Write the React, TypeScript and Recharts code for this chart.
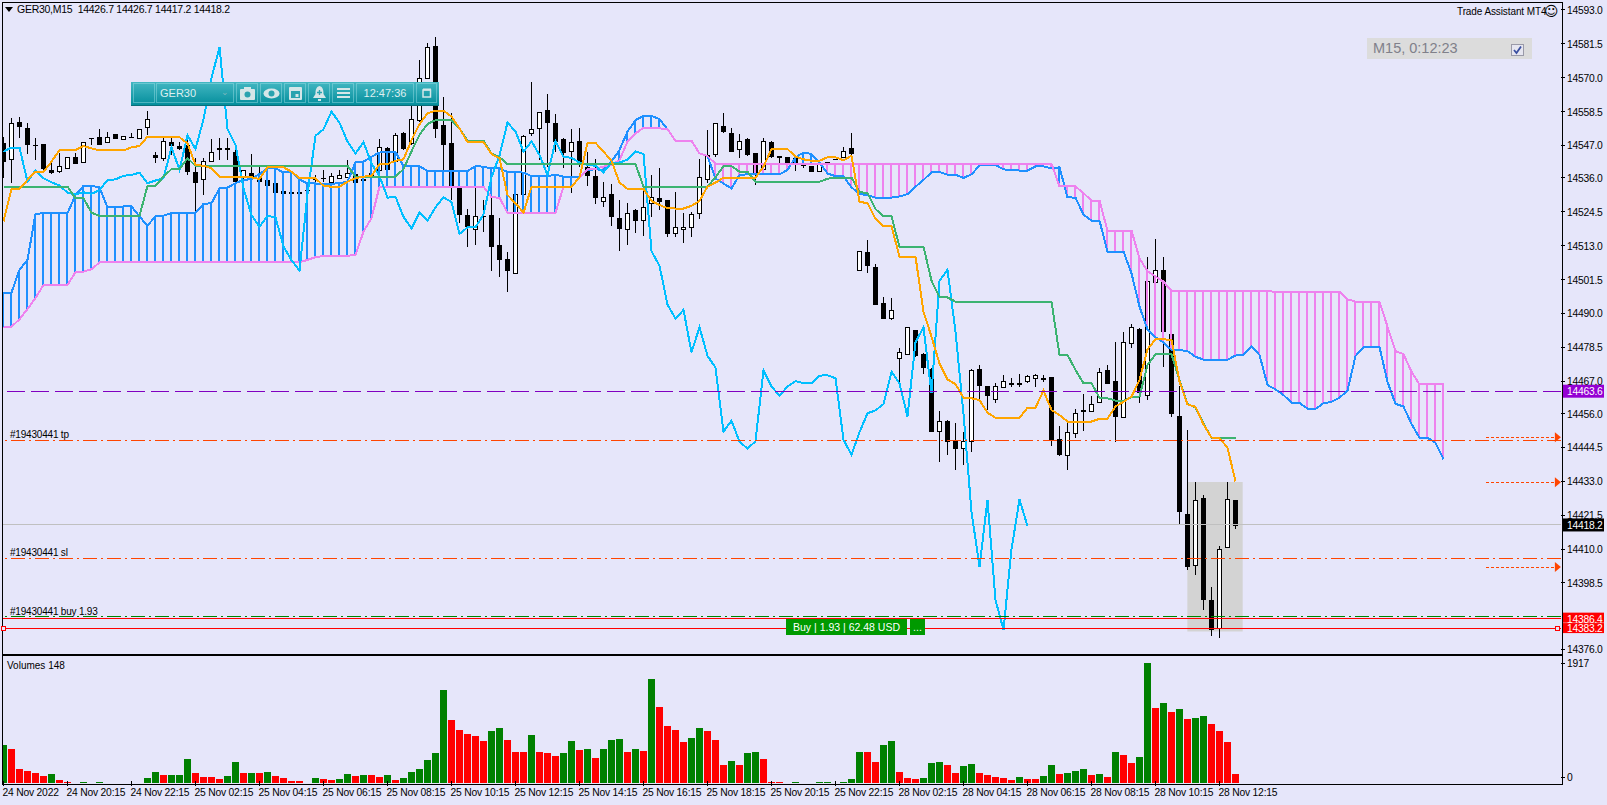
import React from "react";
import {
  ComposedChart, Bar, Line, XAxis, YAxis, ReferenceLine, ReferenceArea, ReferenceDot,
} from "recharts";

// ---- candles (GER30, M15) ----
const opens = [14547.7,14542.3,14555.0,14552.8,14547.3,14547.5,14538.7,14538.5,14539.3,14543.0,14541.3,14549.4,14549.8,14548.3,14550.8,14549.1,14549.8,14549.4,14553.2,14543.8,14542.9,14548.1,14546.8,14547.2,14537.9,14535.5,14541.6,14545.9,14545.9,14544.9,14536.8,14537.6,14536.1,14535.3,14534.2,14531.5,14531.0,14531.1,14531.9,14535.6,14535.9,14534.5,14535.9,14536.4,14537.3,14535.5,14537.6,14538.7,14546.0,14541.9,14551.1,14547.7,14555.6,14570.0,14580.8,14553.9,14547.7,14532.4,14523.4,14518.5,14523.1,14523.4,14513.2,14508.4,14503.8,14530.4,14551.3,14552.8,14559.0,14554.5,14549.2,14545.2,14548.5,14539.8,14536.6,14528.3,14530.5,14522.3,14518.5,14525.1,14521.7,14527.4,14529.1,14528.5,14517.4,14518.5,14519.4,14524.0,14535.5,14544.0,14553.6,14551.4,14545.9,14549.2,14544.3,14538.9,14548.1,14543.4,14543.0,14542.6,14540.4,14540.0,14538.4,14541.3,14542.3,14543.0,14546.2,14504.7,14510.7,14505.8,14493.4,14488.6,14475.0,14476.1,14484.3,14476.2,14471.0,14450.2,14453.4,14447.1,14444.4,14446.6,14471.1,14465.3,14461.1,14464.9,14465.9,14465.9,14467.0,14468.0,14467.9,14468.4,14447.3,14441.8,14449.3,14456.8,14456.8,14459.8,14470.7,14467.0,14454.7,14479.9,14484.7,14462.2,14500.6,14504.6,14482.9,14455.2,14421.9,14404.5,14427.2,14392.7,14383.1,14410.6,14426.7];
const highs = [14549.8,14556.2,14556.6,14554.5,14549.4,14547.5,14541.5,14544.4,14543.2,14544.4,14548.3,14549.4,14552.5,14551.7,14550.8,14550.3,14551.1,14552.5,14558.7,14544.9,14549.4,14549.4,14548.3,14550.9,14542.7,14542.7,14549.1,14549.4,14549.4,14545.5,14538.7,14544.0,14539.6,14535.3,14534.2,14531.5,14531.3,14531.2,14532.5,14537.0,14538.7,14537.6,14538.7,14542.1,14537.6,14537.6,14538.7,14549.1,14546.6,14551.1,14551.7,14560.8,14576.0,14581.8,14583.8,14563.3,14557.9,14533.0,14525.3,14533.0,14528.5,14533.0,14522.3,14511.0,14530.8,14550.5,14568.4,14558.5,14564.5,14557.7,14549.4,14552.5,14552.8,14544.9,14542.3,14534.7,14533.8,14528.5,14527.4,14525.3,14531.7,14537.0,14539.2,14528.5,14531.1,14524.0,14524.5,14542.4,14552.2,14554.8,14557.9,14552.8,14550.8,14549.4,14544.3,14549.4,14548.5,14543.4,14543.2,14543.2,14542.6,14540.0,14541.5,14541.4,14542.3,14546.6,14551.3,14511.3,14514.9,14506.8,14495.5,14495.1,14478.2,14485.5,14484.4,14476.5,14471.4,14456.9,14453.8,14452.7,14449.9,14471.0,14472.5,14465.5,14466.3,14469.1,14468.0,14469.4,14469.1,14469.4,14469.1,14468.4,14451.8,14452.9,14457.5,14462.7,14462.1,14471.4,14472.5,14480.2,14483.6,14486.4,14484.9,14509.3,14515.3,14509.3,14483.0,14465.4,14450.4,14432.9,14428.4,14397.3,14411.1,14432.9,14426.7];
const lows = [14535.9,14534.4,14549.4,14544.1,14542.1,14538.7,14537.3,14537.6,14539.3,14540.7,14541.2,14547.2,14547.0,14548.0,14549.3,14549.1,14549.6,14549.4,14550.6,14541.0,14541.9,14543.8,14545.5,14537.0,14524.6,14530.2,14541.5,14542.1,14542.1,14534.4,14535.3,14535.3,14534.4,14533.4,14531.0,14530.4,14530.9,14530.6,14530.8,14533.9,14534.7,14534.2,14535.6,14535.9,14533.9,14534.7,14535.3,14535.9,14538.5,14538.7,14545.5,14547.0,14555.0,14570.0,14549.4,14534.1,14528.5,14520.6,14512.7,14513.2,14517.7,14504.4,14502.3,14497.4,14503.6,14530.2,14550.3,14542.1,14539.8,14544.9,14539.2,14530.8,14539.8,14533.2,14527.1,14526.2,14519.7,14511.3,14513.2,14517.4,14516.3,14522.6,14525.1,14516.1,14515.8,14514.0,14516.1,14522.0,14534.4,14543.2,14551.3,14544.7,14542.6,14543.4,14533.6,14538.7,14542.6,14539.8,14539.8,14538.3,14539.2,14537.9,14538.4,14541.1,14542.1,14542.6,14543.1,14504.5,14503.6,14492.9,14488.0,14487.8,14466.3,14475.9,14475.3,14469.4,14449.9,14439.7,14441.9,14436.9,14438.6,14443.1,14460.9,14457.2,14459.7,14464.8,14465.1,14465.1,14466.3,14465.1,14466.8,14445.0,14441.7,14436.9,14447.8,14450.1,14456.7,14459.5,14466.1,14446.5,14454.6,14478.2,14459.7,14460.6,14500.4,14471.9,14455.0,14418.5,14402.9,14401.2,14389.3,14380.5,14380.0,14410.5,14416.7];
const closes = [14541.5,14554.5,14553.4,14547.2,14547.0,14538.9,14537.5,14539.9,14543.2,14540.8,14548.1,14549.1,14547.2,14549.8,14549.3,14550.3,14549.6,14552.5,14555.9,14542.8,14548.4,14546.8,14545.7,14538.1,14534.2,14541.9,14544.9,14546.3,14546.3,14534.7,14538.6,14535.9,14534.5,14533.4,14531.0,14530.4,14531.1,14530.6,14531.8,14535.3,14535.5,14536.7,14537.0,14537.8,14534.2,14535.1,14535.9,14546.4,14538.7,14550.5,14545.8,14555.9,14569.8,14580.4,14552.6,14547.2,14532.4,14523.4,14519.4,14523.1,14522.6,14512.7,14508.1,14504.5,14530.5,14550.3,14552.5,14558.5,14554.7,14548.3,14544.3,14548.1,14540.9,14536.6,14529.3,14529.6,14522.8,14518.8,14524.2,14521.5,14526.0,14529.4,14527.8,14517.0,14519.2,14519.2,14523.6,14536.2,14543.6,14554.8,14551.7,14544.9,14548.4,14543.8,14537.0,14548.5,14543.2,14542.8,14541.2,14540.4,14540.1,14537.9,14541.2,14541.2,14542.2,14545.0,14544.1,14511.1,14506.2,14493.0,14488.2,14491.2,14476.8,14485.3,14475.6,14471.6,14449.9,14453.6,14446.5,14444.1,14446.6,14470.7,14465.2,14462.1,14465.2,14467.0,14466.3,14466.3,14468.9,14469.0,14468.0,14447.1,14442.0,14449.7,14456.1,14457.1,14459.2,14470.2,14466.2,14455.0,14480.2,14485.3,14462.9,14501.0,14504.8,14483.8,14455.9,14422.7,14404.0,14426.7,14392.7,14382.6,14409.9,14426.9,14417.8];

// ---- Ichimoku lines ----
const tenkan = [14521.2,14532.3,14532.3,14535.3,14538.1,14538.1,14541.5,14545.5,14545.5,14545.5,14546.8,14546.0,14545.3,14545.3,14545.3,14545.3,14546.4,14546.8,14550.0,14550.0,14550.0,14550.0,14549.8,14547.7,14540.4,14540.1,14539.3,14536.4,14536.4,14536.4,14536.4,14536.2,14535.6,14539.6,14539.6,14539.6,14538.1,14535.9,14535.9,14535.9,14533.3,14533.0,14533.0,14534.7,14535.9,14536.4,14536.7,14540.7,14540.7,14541.8,14542.3,14548.8,14554.2,14557.9,14558.8,14558.8,14556.8,14552.8,14548.2,14548.2,14548.2,14544.1,14542.6,14530.2,14527.4,14524.2,14533.0,14533.0,14533.0,14533.0,14533.0,14533.0,14536.2,14547.9,14547.9,14544.9,14541.8,14534.4,14532.3,14532.3,14532.3,14528.2,14526.8,14525.7,14525.6,14525.6,14526.5,14528.2,14533.0,14534.4,14536.1,14536.1,14536.1,14536.1,14536.1,14539.8,14545.8,14545.8,14545.8,14543.2,14542.3,14541.8,14541.8,14543.0,14543.0,14542.0,14543.5,14527.9,14527.4,14522.1,14519.6,14519.5,14509.3,14509.3,14509.3,14490.6,14482.1,14473.0,14467.6,14466.0,14461.4,14461.2,14460.6,14456.3,14454.6,14454.6,14454.6,14454.6,14458.0,14458.0,14463.8,14457.2,14455.5,14453.3,14453.3,14453.3,14453.3,14454.2,14454.3,14458.4,14460.0,14461.8,14467.4,14477.8,14481.2,14481.2,14481.0,14466.9,14459.1,14458.3,14452.3,14447.9,14447.7,14444.4,14433.0];
const kijun = [14533.0,14533.0,14533.0,14533.0,14533.0,14533.0,14533.0,14533.0,14533.0,14529.1,14529.1,14524.2,14523.1,14523.1,14523.1,14523.1,14523.1,14523.1,14533.3,14533.3,14536.4,14539.0,14539.0,14542.7,14540.1,14540.1,14540.1,14540.1,14540.1,14540.1,14540.1,14540.1,14540.1,14540.1,14540.1,14540.1,14540.1,14540.1,14540.1,14540.1,14540.1,14540.1,14540.1,14540.1,14536.4,14536.4,14536.4,14536.4,14536.4,14536.4,14539.0,14545.0,14550.6,14554.3,14555.6,14555.6,14555.6,14552.8,14548.6,14548.6,14548.6,14544.3,14543.0,14540.7,14540.7,14540.7,14540.7,14540.7,14540.7,14540.7,14540.7,14540.7,14540.7,14540.7,14540.7,14540.7,14540.7,14540.7,14540.7,14540.7,14533.0,14533.0,14533.0,14533.0,14533.0,14533.0,14533.0,14533.0,14533.0,14536.2,14540.0,14540.0,14538.1,14538.1,14534.7,14534.7,14534.7,14534.7,14534.7,14534.7,14534.7,14534.7,14534.7,14535.7,14536.1,14536.1,14536.1,14531.2,14530.8,14525.4,14523.0,14522.9,14512.6,14512.6,14512.6,14512.6,14501.1,14495.6,14495.4,14494.0,14494.0,14494.0,14494.0,14494.0,14494.0,14494.0,14494.0,14494.0,14494.0,14494.0,14494.0,14494.0,14475.9,14475.9,14470.8,14466.3,14466.3,14461.4,14461.2,14460.4,14460.4,14461.5,14461.8,14472.5,14476.1,14476.1,14476.1,14467.4,14459.2,14458.1,14452.7,14447.7,14447.7,14447.7,14447.7];
const chikou = [14544.9,14546.3,14546.3,14534.7,14538.6,14535.9,14534.5,14533.4,14531.0,14530.4,14531.1,14530.6,14531.8,14535.3,14535.5,14536.7,14537.0,14537.8,14534.2,14535.1,14535.9,14546.4,14538.7,14550.5,14545.8,14555.9,14569.8,14580.4,14552.6,14547.2,14532.4,14523.4,14519.4,14523.1,14522.6,14512.7,14508.1,14504.5,14530.5,14550.3,14552.5,14558.5,14554.7,14548.3,14544.3,14548.1,14540.9,14536.6,14529.3,14529.6,14522.8,14518.8,14524.2,14521.5,14526.0,14529.4,14527.8,14517.0,14519.2,14519.2,14523.6,14536.2,14543.6,14554.8,14551.7,14544.9,14548.4,14543.8,14537.0,14548.5,14543.2,14542.8,14541.2,14540.4,14540.1,14537.9,14541.2,14541.2,14542.2,14545.0,14544.1,14511.1,14506.2,14493.0,14488.2,14491.2,14476.8,14485.3,14475.6,14471.6,14449.9,14453.6,14446.5,14444.1,14446.6,14470.7,14465.2,14462.1,14465.2,14467.0,14466.3,14466.3,14468.9,14469.0,14468.0,14447.1,14442.0,14449.7,14456.1,14457.1,14459.2,14470.2,14466.2,14455.0,14480.2,14485.3,14462.9,14501.0,14504.8,14483.8,14455.9,14422.7,14404.0,14426.7,14392.7,14382.6,14409.9,14426.9,14417.8];
const spanA = [14496.9,14497.1,14504.8,14508.2,14523.8,14524.0,14524.0,14524.0,14524.0,14530.2,14533.3,14533.3,14532.8,14526.0,14526.0,14526.3,14526.3,14522.9,14519.7,14523.1,14523.2,14524.1,14524.2,14524.2,14524.2,14527.2,14527.4,14532.5,14532.7,14534.2,14535.3,14535.6,14537.3,14539.3,14539.3,14537.8,14538.1,14535.5,14534.1,14534.1,14534.0,14534.0,14534.2,14534.7,14541.3,14541.5,14543.2,14544.6,14544.8,14544.8,14540.0,14540.2,14540.0,14538.3,14538.3,14538.3,14538.3,14538.3,14538.3,14540.0,14539.8,14539.2,14539.2,14538.0,14538.0,14537.8,14536.6,14536.6,14536.6,14537.1,14536.4,14536.4,14536.4,14538.7,14538.9,14538.7,14541.5,14545.5,14551.7,14555.6,14557.1,14557.1,14555.9,14552.5,14548.6,14548.6,14548.6,14544.3,14543.4,14535.8,14534.1,14532.4,14537.0,14537.2,14537.2,14537.2,14537.2,14537.2,14538.7,14543.0,14544.6,14544.1,14541.2,14537.5,14536.6,14536.5,14532.8,14530.5,14530.2,14529.3,14529.3,14529.3,14529.7,14530.5,14533.0,14535.3,14537.9,14538.0,14537.1,14537.1,14536.0,14537.2,14540.2,14540.4,14540.4,14538.9,14538.6,14538.5,14538.5,14539.9,14539.9,14539.2,14539.6,14529.4,14529.3,14523.5,14521.5,14521.5,14511.0,14511.0,14511.0,14503.6,14492.3,14484.6,14481.9,14480.1,14477.6,14477.6,14477.2,14475.3,14474.3,14474.3,14474.3,14474.3,14475.7,14475.9,14478.8,14475.9,14465.7,14464.2,14462.3,14459.7,14459.6,14457.7,14457.6,14459.5,14460.0,14461.4,14463.8,14475.5,14478.6,14478.7,14478.6,14466.8,14459.3,14458.4,14452.5,14447.8,14447.8,14446.1,14440.5];
const spanB = [14485.2,14485.5,14488.0,14491.5,14495.2,14499.7,14499.7,14499.7,14499.7,14504.0,14504.2,14505.0,14507.3,14507.3,14507.3,14507.3,14507.3,14507.3,14507.3,14507.3,14507.3,14507.3,14507.3,14507.3,14507.3,14507.3,14507.3,14507.3,14507.3,14507.3,14507.3,14507.3,14507.3,14507.3,14507.3,14507.3,14507.3,14507.3,14508.2,14509.1,14509.5,14509.6,14509.6,14509.6,14509.8,14517.8,14522.3,14533.0,14533.0,14533.0,14533.0,14533.0,14533.0,14533.0,14533.0,14533.0,14533.0,14533.0,14533.0,14533.0,14533.0,14529.4,14529.3,14524.2,14524.2,14524.2,14524.2,14524.2,14524.2,14524.2,14533.0,14533.0,14536.2,14538.9,14539.1,14539.8,14540.4,14542.0,14548.3,14551.1,14553.0,14552.8,14552.8,14552.6,14548.6,14548.6,14548.6,14544.3,14543.4,14540.8,14540.8,14540.8,14540.8,14540.8,14540.8,14540.8,14540.8,14540.8,14540.8,14540.8,14540.8,14540.8,14540.8,14540.8,14540.8,14540.8,14540.8,14540.8,14540.8,14540.8,14540.8,14540.8,14540.8,14540.8,14540.8,14540.8,14540.8,14540.8,14540.8,14540.8,14540.8,14540.8,14540.8,14540.8,14540.8,14540.8,14540.8,14540.8,14540.8,14540.8,14540.8,14540.8,14533.1,14533.1,14533.1,14530.8,14528.3,14528.3,14518.1,14518.1,14518.1,14518.1,14508.7,14504.3,14502.5,14500.8,14497.6,14497.6,14497.6,14497.6,14497.6,14497.6,14497.6,14497.6,14497.6,14497.6,14497.6,14497.6,14497.6,14497.3,14497.3,14497.3,14497.3,14497.3,14497.3,14497.3,14497.3,14497.3,14494.8,14494.0,14494.0,14494.0,14494.0,14485.5,14477.2,14476.2,14470.2,14465.9,14465.9,14465.9,14465.9];

// ---- volumes ----
const volumes = [612,548,229,197,165,117,149,53,21,5,21,5,21,5,5,5,5,5,85,181,133,133,133,389,165,101,101,69,117,341,165,165,165,181,117,85,37,37,5,85,69,53,69,149,117,133,133,101,133,53,85,181,229,373,485,1491,1012,852,788,756,676,836,884,692,500,500,772,500,485,437,485,676,532,548,405,548,692,708,500,548,517,1667,1219,916,852,660,724,884,836,692,293,357,293,485,500,389,21,21,5,21,5,5,21,21,5,21,69,500,500,341,612,676,181,85,69,85,325,341,293,165,277,309,165,133,101,85,53,101,69,69,117,293,149,165,197,229,133,149,101,500,453,325,421,1917,1203,1283,1140,1187,1028,1044,1076,948,836,660,149];
const greenBars = [0,6,10,12,15,17,18,19,21,22,23,28,29,31,33,39,42,43,45,48,50,51,52,53,54,55,61,62,66,70,71,73,75,76,77,79,81,86,87,91,93,94,99,102,103,105,106,107,110,111,115,116,117,120,121,127,130,131,133,134,135,137,139,142,143,145,147,149,150];

// ---- axis labels and levels ----
const priceTicks = [14593.0,14581.5,14570.0,14558.5,14547.0,14536.0,14524.5,14513.0,14501.5,14490.0,14478.5,14467.0,14456.0,14444.5,14433.0,14421.5,14410.0,14398.5,14376.0];
const timeLabels = ["24 Nov 2022","24 Nov 20:15","24 Nov 22:15","25 Nov 02:15","25 Nov 04:15","25 Nov 06:15","25 Nov 08:15","25 Nov 10:15","25 Nov 12:15","25 Nov 14:15","25 Nov 16:15","25 Nov 18:15","25 Nov 20:15","25 Nov 22:15","28 Nov 02:15","28 Nov 04:15","28 Nov 06:15","28 Nov 08:15","28 Nov 10:15","28 Nov 12:15"];
const timeTicks = [0,8,16,24,32,40,48,56,64,72,80,88,96,104,112,120,128,136,144,152];
const volumeTicks = [0, 1917];
const alertLevels = [14448.0, 14432.7, 14403.9];

const priceRows = spanA.map((a, i) => ({
  i,
  candle: highs[i] === undefined ? null : [lows[i], highs[i]],
  open: opens[i], high: highs[i], low: lows[i], close: closes[i],
  tenkan: tenkan[i] ?? null,
  kijun: kijun[i] ?? null,
  chikou: chikou[i] ?? null,
  spanA: a,
  spanB: spanB[i],
  cloud: [Math.min(a, spanB[i]), Math.max(a, spanB[i])],
}));
const volumeRows = volumes.map((v, i) => ({ i, v, up: greenBars.includes(i) }));

const BLUE = "#1E90FF", VIOLET = "#EE82EE", ORANGE = "#FFA500", GREEN = "#3CB371", SKY = "#00BFFF", LAV = "#E6E6FA", OR = "#FF4500";
const UI = "'Liberation Sans', Arial, sans-serif";
const LW = 2;
const xDomain: [number, number] = [-0.0625, 194.6875];
const yDomain: [number, number] = [14374.4, 14595.7];

const snap = (v: number) => Math.round(v - 0.5) + 0.5;

const Candle = (p: any) => {
  const { x, y, width, height, payload } = p;
  if (payload.high === undefined) return null;
  const cx = snap(x + width / 2);
  const range = Math.max(payload.high - payload.low, 0.0001);
  const at = (v: number) => y + ((payload.high - v) / range) * height;
  const top = Math.round(at(Math.max(payload.open, payload.close)));
  const bot = Math.round(at(Math.min(payload.open, payload.close)));
  const bull = payload.close > payload.open;
  return (
    <g shapeRendering="crispEdges">
      <line x1={cx} x2={cx} y1={y} y2={y + height} stroke="#000" />
      {bull ? (
        <rect x={cx - 2} y={top + 0.5} width={4} height={Math.max(bot - top, 1)} fill="#fff" stroke="#000" />
      ) : (
        <rect x={cx - 2.5} y={top} width={5} height={Math.max(bot - top, 1)} fill="#000" />
      )}
    </g>
  );
};

const Hatch = (p: any) => {
  const { x, y, width, height, payload } = p;
  const cx = Math.round(x + width / 2 - 1);
  return <rect x={cx} y={y} width={2} height={Math.max(height, 0)} shapeRendering="crispEdges" fill={payload.spanA >= payload.spanB ? BLUE : VIOLET} />;
};

const VolBar = (p: any) => {
  const { x, y, width, height, payload } = p;
  return <rect x={Math.round(x)} y={y} width={7} height={height} shapeRendering="crispEdges" fill={payload.up ? "#008000" : "#FF0000"} />;
};

const PriceTick = (p: any) => (
  <g>
    <line x1={1561} x2={1565} y1={p.y} y2={p.y} stroke="#000" shapeRendering="crispEdges" />
    <text x={1567} y={p.y + 4} fontSize={10.3} fontFamily={UI} fill="#000" letterSpacing={-0.25}>{p.payload.value.toFixed(1)}</text>
  </g>
);

const VolumeTick = (p: any) => {
  const zero = p.payload.value === 0;
  const y = zero ? p.y - 6 : p.y;
  return (
    <g>
      <line x1={1561} x2={1565} y1={y} y2={y} stroke="#000" shapeRendering="crispEdges" />
      <text x={1567} y={y + 4} fontSize={10.3} fontFamily={UI} fill="#000" letterSpacing={-0.25}>{p.payload.value}</text>
    </g>
  );
};

const TimeTick = (p: any) => {
  const idx = timeTicks.indexOf(p.payload.value);
  return (
    <g>
      <line x1={p.x} x2={p.x} y1={p.y - 2} y2={p.y + 3} stroke="#000" shapeRendering="crispEdges" />
      <text x={p.x - 1} y={p.y + 13} fontSize={10.3} fontFamily={UI} fill="#000" letterSpacing={-0.2}>{timeLabels[idx]}</text>
    </g>
  );
};

const Tag = ({ viewBox, text, bg, up = 6.5, down = 6.5 }: any) => {
  const y = viewBox.y;
  return (
    <g>
      <rect x={1563} y={y - up} width={41} height={up + down} fill={bg} />
      <text x={1567} y={y + 4} fontSize={10.3} fontFamily={UI} fill="#fff" letterSpacing={-0.25}>{text}</text>
    </g>
  );
};

const LeftNote = ({ viewBox, text }: any) => (
  <text x={10} y={viewBox.y - 2} fontSize={10} fontFamily={UI} fill="#000" letterSpacing={-0.2}>{text}</text>
);

const AlertArrow = (p: any) => (
  <polygon points={`${p.cx - 3},${p.cy - 5} ${p.cx + 3},${p.cy} ${p.cx - 3},${p.cy + 5}`} fill={OR} />
);
const Handle = (p: any) => (
  <rect x={p.cx - 2} y={p.cy - 2} width={4} height={4} fill={LAV} stroke="#FF0000" shapeRendering="crispEdges" />
);

const Cell = ({ left, width, children }: any) => (
  <div style={{ position: "absolute", left: left - 131, top: 1, width, height: 20, boxSizing: "border-box", border: "1px solid rgba(160,225,230,.45)", display: "flex", alignItems: "center", justifyContent: "center", color: "#DDEFF0", fontFamily: UI, fontSize: 11 }}>
    {children}
  </div>
);

const ICON = "#D5E6E8";
const Toolbar = () => (
  <div style={{ position: "absolute", left: 131, top: 82, width: 308, height: 23, background: "linear-gradient(#43B7C2,#048E9C)", borderBottom: "1px solid #0A6F7A" }}>
    <Cell left={133} width={22} />
    <Cell left={156} width={78}>
      <span style={{ position: "absolute", left: 3 }}>GER30</span>
      <span style={{ position: "absolute", right: 4, top: 3, fontSize: 9, color: "#7FB7BD" }}>⌄</span>
    </Cell>
    <Cell left={236} width={22}><svg width="15" height="13"><rect x="0" y="2" width="15" height="11" rx="1" fill={ICON} /><rect x="4" y="0" width="7" height="3" fill={ICON} /><circle cx="7.5" cy="7.5" r="3" fill="#2AA3AF" /></svg></Cell>
    <Cell left={260} width={22}><svg width="17" height="11"><ellipse cx="8.5" cy="5.5" rx="8" ry="5" fill={ICON} /><circle cx="8.5" cy="5.5" r="3" fill="#2AA3AF" /></svg></Cell>
    <Cell left={284} width={22}><svg width="13" height="14"><rect x="0" y="1" width="13" height="13" rx="1" fill={ICON} /><rect x="2" y="5" width="9" height="7" fill="#2AA3AF" /><rect x="6.5" y="8" width="3" height="3" fill={ICON} /></svg></Cell>
    <Cell left={308} width={22}><svg width="13" height="15"><path d="M6.5 0 C10 1 10.5 4 10.5 8 L13 12 L0 12 L2.5 8 C2.5 4 3 1 6.5 0Z" fill={ICON} /><rect x="5" y="13" width="3" height="2" fill={ICON} /><path d="M6.5 4 V9 M4 6.5 H9" stroke="#2AA3AF" strokeWidth="1.4" /></svg></Cell>
    <Cell left={332} width={22}><svg width="13" height="10"><rect y="0" width="13" height="2" fill={ICON} /><rect y="4" width="13" height="2" fill={ICON} /><rect y="8" width="13" height="2" fill={ICON} /></svg></Cell>
    <Cell left={356} width={58}>12:47:36</Cell>
    <Cell left={416} width={21}><svg width="10" height="10"><rect x="1" y="2" width="7.5" height="7" fill="none" stroke={ICON} strokeWidth="1.5" /><rect x="1" y="0.5" width="8" height="2" fill={ICON} /></svg></Cell>
  </div>
);

const PriceChart = () => (
  <ComposedChart width={1607} height={655} data={priceRows} margin={{ top: 2, right: 0, bottom: 1, left: 3 }} style={{ position: "absolute", left: 0, top: 0 }}>
    <XAxis dataKey="i" type="number" domain={xDomain} allowDataOverflow hide />
    <XAxis xAxisId="hatch" dataKey="i" type="number" domain={xDomain} allowDataOverflow hide />
    <YAxis orientation="right" width={46} domain={yDomain} allowDataOverflow ticks={priceTicks} interval={0} tick={<PriceTick />} tickLine={false} axisLine={false} tickSize={0} tickMargin={0} />
    <ReferenceArea x1={147.98} x2={154.9} y1={14432.8} y2={14382.0} fill="#D3D3D3" fillOpacity={1} stroke="none" />
    <ReferenceLine y={14418.2} stroke="#C0C0C0" shapeRendering="crispEdges" label={<Tag text="14418.2" bg="#000" />} />
    <Bar dataKey="candle" barSize={7} shape={<Candle />} isAnimationActive={false} />
    <Bar xAxisId="hatch" dataKey="cloud" barSize={7} shape={<Hatch />} isAnimationActive={false} />
    <Line dataKey="spanA" stroke={BLUE} strokeWidth={LW} dot={false} isAnimationActive={false} shapeRendering="crispEdges" />
    <Line dataKey="spanB" stroke={VIOLET} strokeWidth={LW} dot={false} isAnimationActive={false} shapeRendering="crispEdges" />
    <Line dataKey="chikou" stroke={SKY} strokeWidth={LW} dot={false} isAnimationActive={false} shapeRendering="crispEdges" />
    <Line dataKey="kijun" stroke={GREEN} strokeWidth={LW} dot={false} isAnimationActive={false} shapeRendering="crispEdges" />
    <Line dataKey="tenkan" stroke={ORANGE} strokeWidth={LW} dot={false} isAnimationActive={false} shapeRendering="crispEdges" />
    <ReferenceLine y={14463.6} stroke="#8000C0" strokeDasharray="18 6" shapeRendering="crispEdges" label={<Tag text="14463.6" bg="#9400D3" />} />
    <ReferenceLine y={14446.9} stroke={OR} strokeDasharray="14 4 2 4" shapeRendering="crispEdges" label={<LeftNote text="#19430441 tp" />} />
    <ReferenceLine y={14406.9} stroke={OR} strokeDasharray="14 4 2 4" shapeRendering="crispEdges" label={<LeftNote text="#19430441 sl" />} />
    <ReferenceLine y={14387.1} stroke="#008000" strokeDasharray="14 4 2 4" shapeRendering="crispEdges" label={<LeftNote text="#19430441 buy 1.93" />} />
    <ReferenceLine y={14386.4} stroke="#FF0000" shapeRendering="crispEdges" label={<Tag text="14386.4" bg="#FF0000" up={6} down={4} />} />
    <ReferenceLine y={14383.2} stroke="#FF0000" shapeRendering="crispEdges" label={<Tag text="14383.2" bg="#FF0000" up={5} down={5} />} />
    {alertLevels.map((lvl) => (
      <ReferenceLine key={lvl} segment={[{ x: 185.3, y: lvl }, { x: 194.3, y: lvl }]} stroke={OR} strokeDasharray="3 2" shapeRendering="crispEdges" />
    ))}
    {alertLevels.map((lvl) => (
      <ReferenceDot key={"a" + lvl} x={194.3} y={lvl} r={3} shape={<AlertArrow />} />
    ))}
    <ReferenceDot x={0.05} y={14383.2} r={2} shape={<Handle />} />
    <ReferenceDot x={194.3} y={14383.2} r={2} shape={<Handle />} />
  </ComposedChart>
);

const VolumeChart = () => (
  <ComposedChart width={1607} height={149} data={volumeRows} margin={{ top: 7, right: 0, bottom: 0, left: 3 }} style={{ position: "absolute", left: 0, top: 656 }}>
    <XAxis dataKey="i" type="number" domain={xDomain} allowDataOverflow ticks={timeTicks} interval={0} height={22} tick={<TimeTick />} tickLine={false} axisLine={false} tickSize={0} tickMargin={0} />
    <YAxis orientation="right" width={46} domain={[0, 1917]} allowDataOverflow ticks={volumeTicks} interval={0} tick={<VolumeTick />} tickLine={false} axisLine={false} tickSize={0} tickMargin={0} />
    <Bar dataKey="v" barSize={7} shape={<VolBar />} isAnimationActive={false} />
  </ComposedChart>
);

export default function App() {
  return (
    <div style={{ position: "absolute", left: 0, top: 0, width: 1607, height: 805, background: LAV, overflow: "hidden", fontFamily: UI }}>
      <div style={{ position: "absolute", left: 2, top: 2, width: 1559, height: 651, border: "1px solid #000" }} />
      <div style={{ position: "absolute", left: 2, top: 655, width: 1559, height: 128, border: "1px solid #000" }} />
      <PriceChart />
      <VolumeChart />
      <div style={{ position: "absolute", left: 5, top: 7, width: 0, height: 0, borderLeft: "4px solid transparent", borderRight: "4px solid transparent", borderTop: "5px solid #000" }} />
      <div style={{ position: "absolute", left: 17, top: 3, fontSize: 10.5, letterSpacing: -0.27, color: "#000", whiteSpace: "pre", lineHeight: "13px" }}>GER30,M15  14426.7 14426.7 14417.2 14418.2</div>
      <div style={{ position: "absolute", left: 1457, top: 5, fontSize: 10, letterSpacing: -0.1, color: "#000", lineHeight: "13px", whiteSpace: "pre" }}>Trade Assistant MT4</div>
      <div style={{ position: "absolute", left: 1544, top: 2, fontSize: 14, color: "#000", lineHeight: "18px", fontFamily: "'DejaVu Sans'" }}>☺</div>
      <div style={{ position: "absolute", left: 1367, top: 38, width: 165, height: 21, background: "#DCDCDC" }}>
        <span style={{ position: "absolute", left: 6, top: 2, fontSize: 14.5, lineHeight: "17px", color: "#80808A", whiteSpace: "pre" }}>M15, 0:12:23</span>
        <svg style={{ position: "absolute", left: 144, top: 6 }} width="13" height="12">
          <rect x="0.5" y="0.5" width="12" height="11" fill="#E6E6F0" stroke="#9A9AA8" />
          <path d="M3 6 L5.5 9 L10 2.5" fill="none" stroke="#3A4FA0" strokeWidth="1.8" />
        </svg>
      </div>
      <div style={{ position: "absolute", left: 786, top: 619, width: 121, height: 16, background: "#009A00", color: "#fff", fontSize: 10.5, lineHeight: "16px", textAlign: "center", whiteSpace: "pre" }}>Buy | 1.93 | 62.48 USD</div>
      <div style={{ position: "absolute", left: 910, top: 619, width: 15, height: 16, background: "#009A00", color: "#fff", fontSize: 10.5, lineHeight: "16px", textAlign: "center" }}>...</div>
      <div style={{ position: "absolute", left: 7, top: 659, fontSize: 10, lineHeight: "13px", color: "#000", whiteSpace: "pre" }}>Volumes 148</div>
      <Toolbar />
    </div>
  );
}
